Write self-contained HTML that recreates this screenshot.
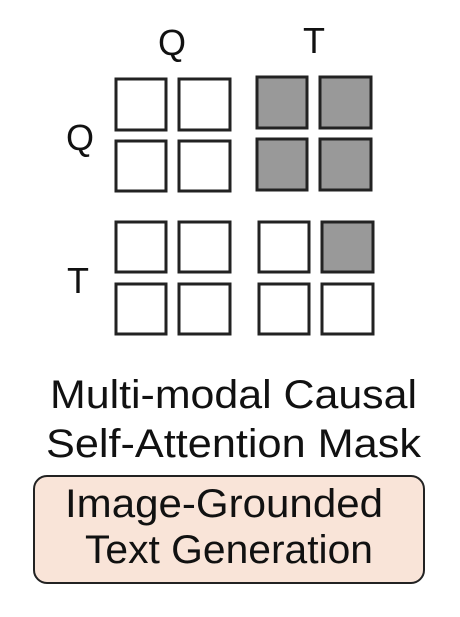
<!DOCTYPE html>
<html><head><meta charset="utf-8"><style>html,body{margin:0;padding:0;background:#fff}</style></head>
<body>
<svg width="460" height="612" xmlns="http://www.w3.org/2000/svg" font-family="Liberation Sans, Arial, sans-serif" fill="#111">
<g stroke="#222" stroke-width="3">
<rect x="116" y="79" width="50" height="51" fill="#fff"/>
<rect x="179" y="79" width="51" height="51" fill="#fff"/>
<rect x="257" y="77" width="50" height="51" fill="#999"/>
<rect x="320" y="77" width="51" height="51" fill="#999"/>
<rect x="116" y="141" width="50" height="50" fill="#fff"/>
<rect x="179" y="141" width="51" height="50" fill="#fff"/>
<rect x="257" y="139" width="50" height="51" fill="#999"/>
<rect x="320" y="139" width="51" height="51" fill="#999"/>
<rect x="116" y="222" width="50" height="50" fill="#fff"/>
<rect x="179" y="222" width="51" height="50" fill="#fff"/>
<rect x="259" y="222" width="50" height="50" fill="#fff"/>
<rect x="322" y="222" width="51" height="50" fill="#999"/>
<rect x="116" y="284" width="50" height="50" fill="#fff"/>
<rect x="179" y="284" width="51" height="50" fill="#fff"/>
<rect x="259" y="284" width="50" height="50" fill="#fff"/>
<rect x="322" y="284" width="51" height="50" fill="#fff"/>
</g>
<g font-size="36" text-anchor="middle">
<text x="172" y="55">Q</text>
<text x="314" y="53">T</text>
<text x="80" y="150">Q</text>
<text x="78" y="293">T</text>
</g>
<g font-size="40">
<text x="50" y="408" textLength="367" lengthAdjust="spacingAndGlyphs">Multi-modal Causal</text>
<text x="46" y="457" textLength="375" lengthAdjust="spacingAndGlyphs">Self-Attention Mask</text>
</g>
<rect x="34" y="476" width="390" height="107" rx="13" fill="#f9e4d8" stroke="#222" stroke-width="2"/>
<g font-size="40">
<text x="65" y="517" textLength="318" lengthAdjust="spacingAndGlyphs">Image-Grounded</text>
<text x="85" y="563" textLength="288" lengthAdjust="spacingAndGlyphs">Text Generation</text>
</g>
</svg>
</body></html>
